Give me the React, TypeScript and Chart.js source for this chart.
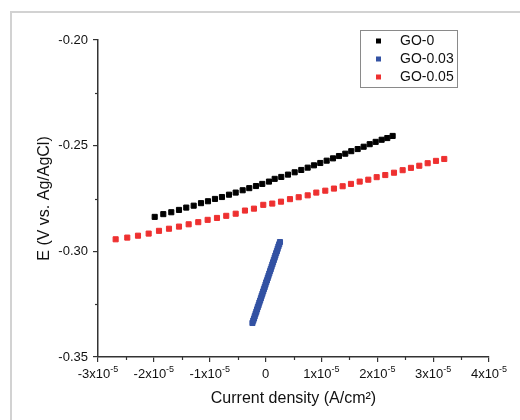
import React, { useEffect, useRef } from "react";
import { Chart, registerables } from "chart.js";

Chart.register(...registerables);

const seriesNames = ["GO-0", "GO-0.03", "GO-0.05"];
const seriesColors = ["#000000", "#3352a3", "#ee3030"];

const go0Current = [
  -1.985e-5, -1.831e-5, -1.688e-5, -1.55e-5, -1.42e-5, -1.287e-5, -1.156e-5, -1.031e-5, -0.906e-5,
  -0.781e-5, -0.655e-5, -0.535e-5, -0.41e-5, -0.292e-5, -0.172e-5, -0.059e-5, 0.061e-5, 0.163e-5,
  0.281e-5, 0.401e-5, 0.521e-5, 0.639e-5, 0.754e-5, 0.866e-5, 0.979e-5, 1.094e-5, 1.207e-5,
  1.314e-5, 1.427e-5, 1.534e-5, 1.649e-5, 1.756e-5, 1.864e-5, 1.971e-5, 2.078e-5, 2.179e-5, 2.275e-5,
];
const go0Potential = [
  -0.2837, -0.2824, -0.2815, -0.2804, -0.2793, -0.2784, -0.2772, -0.2763, -0.2752, -0.2743,
  -0.2732, -0.2722, -0.2711, -0.2701, -0.2691, -0.2681, -0.267, -0.2657, -0.2648, -0.2637,
  -0.2626, -0.2615, -0.2604, -0.2593, -0.2582, -0.2571, -0.256, -0.2549, -0.2538, -0.2526,
  -0.2516, -0.2505, -0.2493, -0.2482, -0.2472, -0.2464, -0.2454,
];

const go003Current = [
  -0.235e-5, -0.221e-5, -0.207e-5, -0.194e-5, -0.18e-5, -0.166e-5, -0.153e-5, -0.139e-5, -0.125e-5,
  -0.112e-5, -0.098e-5, -0.084e-5, -0.071e-5, -0.057e-5, -0.043e-5, -0.03e-5, -0.016e-5, -0.002e-5,
  0.011e-5, 0.025e-5, 0.039e-5, 0.052e-5, 0.066e-5, 0.08e-5, 0.093e-5, 0.107e-5, 0.121e-5, 0.134e-5,
  0.148e-5, 0.162e-5, 0.175e-5, 0.189e-5, 0.203e-5, 0.216e-5, 0.23e-5, 0.244e-5, 0.258e-5,
];
const go003Potential = [
  -0.3339, -0.3328, -0.3318, -0.3307, -0.3296, -0.3286, -0.3275, -0.3264, -0.3254, -0.3243,
  -0.3233, -0.3222, -0.3211, -0.3201, -0.319, -0.3179, -0.3169, -0.3158, -0.3147, -0.3137,
  -0.3126, -0.3116, -0.3105, -0.3094, -0.3084, -0.3073, -0.3062, -0.3052, -0.3041, -0.303,
  -0.302, -0.3009, -0.2999, -0.2988, -0.2977, -0.2967, -0.2956,
];

const go005Current = [
  -2.684e-5, -2.476e-5, -2.284e-5, -2.093e-5, -1.908e-5, -1.729e-5, -1.55e-5, -1.377e-5, -1.205e-5,
  -1.037e-5, -0.87e-5, -0.704e-5, -0.535e-5, -0.369e-5, -0.208e-5, -0.041e-5, 0.12e-5, 0.276e-5,
  0.437e-5, 0.593e-5, 0.754e-5, 0.908e-5, 1.069e-5, 1.224e-5, 1.38e-5, 1.529e-5, 1.685e-5, 1.839e-5,
  1.989e-5, 2.143e-5, 2.299e-5, 2.454e-5, 2.603e-5, 2.752e-5, 2.902e-5, 3.051e-5, 3.199e-5,
];
const go005Potential = [
  -0.2943, -0.2935, -0.2926, -0.2916, -0.2903, -0.2893, -0.2883, -0.2872, -0.2862, -0.2851,
  -0.2842, -0.2832, -0.2822, -0.2807, -0.2798, -0.278, -0.2774, -0.2765, -0.2753, -0.2744,
  -0.2735, -0.2722, -0.2713, -0.2703, -0.2692, -0.2681, -0.267, -0.2661, -0.2649, -0.2639,
  -0.2628, -0.2616, -0.2605, -0.2595, -0.2583, -0.2572, -0.2563,
];

const xTickValues = [-3e-5, -2e-5, -1e-5, 0, 1e-5, 2e-5, 3e-5, 4e-5];
const xTickBases = ["-3x10", "-2x10", "-1x10", "0", "1x10", "2x10", "3x10", "4x10"];
const xTickExponents = ["-5", "-5", "-5", "", "-5", "-5", "-5", "-5"];
const yTickValues = [-0.35, -0.3, -0.25, -0.2];
const yTickLabels = ["-0.35", "-0.30", "-0.25", "-0.20"];

const xTitle = "Current density (A/cm²)";
const yTitle = "E (V vs. Ag/AgCl)";

const FONT = "'Liberation Sans', Arial, Helvetica, sans-serif";
const AXIS_COLOR = "#333333";
const TEXT_COLOR = "#111111";

const toPoints = (xs: number[], ys: number[]) => xs.map((x, i) => ({ x, y: ys[i] }));

const framePlugin = {
  id: "frame",
  beforeDraw(chart: any) {
    const ctx = chart.ctx;
    ctx.save();
    ctx.fillStyle = "#ffffff";
    ctx.fillRect(0, 0, chart.width, chart.height);
    ctx.strokeStyle = "#d2d2d2";
    ctx.lineWidth = 2;
    ctx.strokeRect(11, 12, chart.width + 20, chart.height + 20);
    ctx.restore();
  },
};

const axisDecorPlugin = {
  id: "axisDecor",
  afterDraw(chart: any) {
    const ctx = chart.ctx;
    const xs = chart.scales.x;
    const ys = chart.scales.y;
    ctx.save();
    ctx.strokeStyle = AXIS_COLOR;
    ctx.lineWidth = 1.2;
    for (let i = 0; i < xTickValues.length - 1; i++) {
      const v = (xTickValues[i] + xTickValues[i + 1]) / 2;
      const px = Math.round(xs.getPixelForValue(v)) + 0.5;
      ctx.beginPath();
      ctx.moveTo(px, xs.top);
      ctx.lineTo(px, xs.top + 3);
      ctx.stroke();
    }
    for (let i = 0; i < yTickValues.length - 1; i++) {
      const v = (yTickValues[i] + yTickValues[i + 1]) / 2;
      const py = Math.round(ys.getPixelForValue(v)) + 0.5;
      ctx.beginPath();
      ctx.moveTo(ys.right, py);
      ctx.lineTo(ys.right - 3, py);
      ctx.stroke();
    }
    // x tick labels with superscript exponents
    ctx.fillStyle = TEXT_COLOR;
    ctx.textBaseline = "alphabetic";
    ctx.textAlign = "left";
    const baseFont = `13px ${FONT}`;
    const supFont = `9px ${FONT}`;
    const baseY = xs.top + 21;
    xTickValues.forEach((v, i) => {
      const px = xs.getPixelForValue(v);
      ctx.font = baseFont;
      const wb = ctx.measureText(xTickBases[i]).width;
      ctx.font = supFont;
      const we = xTickExponents[i] ? ctx.measureText(xTickExponents[i]).width : 0;
      const start = px - (wb + we) / 2;
      ctx.font = baseFont;
      ctx.fillText(xTickBases[i], start, baseY);
      if (xTickExponents[i]) {
        ctx.font = supFont;
        ctx.fillText(xTickExponents[i], start + wb, baseY - 6);
      }
    });
    ctx.restore();
  },
};

const legendPlugin = {
  id: "boxLegend",
  afterDraw(chart: any) {
    const ctx = chart.ctx;
    const area = chart.chartArea;
    const boxW = 97;
    const boxH = 57;
    const bx = area.right - 129;
    const by = area.top - 10;
    ctx.save();
    ctx.strokeStyle = "#8a8a8a";
    ctx.lineWidth = 1;
    ctx.strokeRect(Math.round(bx) + 0.5, Math.round(by) + 0.5, boxW, boxH);
    ctx.font = `14px ${FONT}`;
    ctx.textBaseline = "middle";
    ctx.textAlign = "left";
    chart.data.datasets.forEach((ds: any, i: number) => {
      const cy = by + 11 + i * 18;
      ctx.fillStyle = ds.backgroundColor;
      ctx.fillRect(bx + 16, cy - 2.5, 5, 5);
      ctx.fillStyle = TEXT_COLOR;
      ctx.fillText(ds.label, bx + 40, cy + 0.5);
    });
    ctx.restore();
  },
};

export default function App() {
  const canvasRef = useRef<HTMLCanvasElement | null>(null);

  useEffect(() => {
    if (!canvasRef.current) return;
    const seriesX = [go0Current, go003Current, go005Current];
    const seriesY = [go0Potential, go003Potential, go005Potential];
    const chart = new Chart(canvasRef.current, {
      type: "scatter",
      data: {
        datasets: seriesNames.map((name, i) => ({
          label: name,
          data: toPoints(seriesX[i], seriesY[i]),
          backgroundColor: seriesColors[i],
          borderColor: seriesColors[i],
          borderWidth: 1,
          pointStyle: "rect",
          pointRadius: 3.6,
          pointHoverRadius: 3.6,
          showLine: false,
        })),
      },
      options: {
        responsive: false,
        animation: false,
        events: [],
        layout: { padding: { left: 0, top: 40, right: 31, bottom: 0 } },
        plugins: {
          legend: { display: false },
          tooltip: { enabled: false },
        },
        scales: {
          x: {
            type: "linear",
            min: -3e-5,
            max: 4e-5,
            afterFit: (scale: any) => {
              scale.height = 63;
            },
            afterBuildTicks: (scale: any) => {
              scale.ticks = xTickValues.map((v) => ({ value: v }));
            },
            ticks: {
              autoSkip: false,
              maxRotation: 0,
              padding: 4,
              color: TEXT_COLOR,
              font: { family: FONT, size: 13 },
              callback: () => "",
            },
            grid: {
              drawOnChartArea: false,
              drawTicks: true,
              tickLength: 5,
              color: AXIS_COLOR,
              lineWidth: 1.2,
            },
            border: { display: true, color: AXIS_COLOR, width: 1.5 },
            title: {
              display: true,
              text: xTitle,
              color: TEXT_COLOR,
              font: { family: FONT, size: 16 },
              padding: { top: 0, bottom: 12 },
            },
          },
          y: {
            type: "linear",
            min: -0.35,
            max: -0.2,
            afterFit: (scale: any) => {
              scale.width = 98;
            },
            afterBuildTicks: (scale: any) => {
              scale.ticks = yTickValues.map((v) => ({ value: v }));
            },
            ticks: {
              autoSkip: false,
              padding: 5,
              color: TEXT_COLOR,
              font: { family: FONT, size: 13 },
              callback: (_v: any, idx: number) => yTickLabels[idx],
            },
            grid: {
              drawOnChartArea: false,
              drawTicks: true,
              tickLength: 5,
              color: AXIS_COLOR,
              lineWidth: 1.2,
            },
            border: { display: true, color: AXIS_COLOR, width: 1.5 },
            title: {
              display: true,
              text: yTitle,
              color: TEXT_COLOR,
              font: { family: FONT, size: 16 },
              padding: { top: 35, bottom: 0 },
            },
          },
        },
      },
      plugins: [framePlugin, axisDecorPlugin, legendPlugin],
    } as any);
    return () => chart.destroy();
  }, []);

  return (
    <div style={{ position: "fixed", left: 0, top: 0, width: 520, height: 420, background: "#fff" }}>
      <canvas ref={canvasRef} width={520} height={420} style={{ display: "block" }} />
    </div>
  );
}
